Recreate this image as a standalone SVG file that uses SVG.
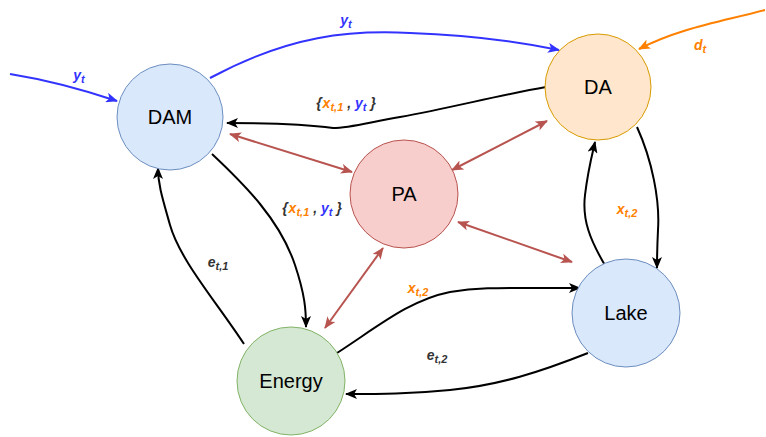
<svg xmlns="http://www.w3.org/2000/svg" width="766" height="437" viewBox="0 0 766 437">
<style>
.node text{font-family:"Liberation Sans",Arial,sans-serif;font-size:20px;fill:#000;text-anchor:middle;dominant-baseline:central}
.e{fill:none;stroke-width:2}
.k{stroke:#000}
.b{stroke:#3333ff}
.o{stroke:#ff8000}
.r{stroke:#b85450}
.lbl{font-family:"Liberation Sans",Arial,sans-serif;font-size:14px;font-weight:bold;font-style:italic;text-anchor:middle}
.sub{font-size:11px}
.cb{fill:#3333ff}
.co{fill:#ff8000}
.cd{fill:#333333}
</style>
<defs>
<marker id="ak" viewBox="0 0 12 10" refX="11" refY="5" markerWidth="12" markerHeight="10" markerUnits="userSpaceOnUse" orient="auto"><path d="M0,0 L12,5 L0,10 L3,5 Z" fill="#000"/></marker>
<marker id="ab" viewBox="0 0 12 10" refX="11" refY="5" markerWidth="12" markerHeight="10" markerUnits="userSpaceOnUse" orient="auto"><path d="M0,0 L12,5 L0,10 L3,5 Z" fill="#3333ff"/></marker>
<marker id="ao" viewBox="0 0 12 10" refX="11" refY="5" markerWidth="12" markerHeight="10" markerUnits="userSpaceOnUse" orient="auto"><path d="M0,0 L12,5 L0,10 L3,5 Z" fill="#ff8000"/></marker>
<marker id="ar" viewBox="0 0 12 10" refX="11" refY="5" markerWidth="12" markerHeight="10" markerUnits="userSpaceOnUse" orient="auto-start-reverse"><path d="M0,0 L12,5 L0,10 L3,5 Z" fill="#b85450"/></marker>
</defs>
<g id="connectors">
<path class="e b" d="M10,74 Q60,82 117,101" marker-end="url(#ab)"/>
<path class="e b" d="M210,78 C290,35 350,30 410,33 C470,35 520,42 559,50" marker-end="url(#ab)"/>
<path class="e o" d="M765,10 C720,22 680,28 639,49" marker-end="url(#ao)"/>
<path class="e k" d="M546,87 C500,95 450,108 400,117 C370,122 350,128 333,128 C310,125 280,123 227,123" marker-end="url(#ak)"/>
<path class="e k" d="M212,154 C245,185 280,220 295,265 C305,295 306,310 306,327" marker-end="url(#ak)"/>
<path class="e k" d="M244,344 C215,300 180,260 170,225 C163,200 158,185 158,168" marker-end="url(#ak)"/>
<path class="e k" d="M337,353 C380,325 410,300 450,292 C480,287 500,288 580,288" marker-end="url(#ak)"/>
<path class="e k" d="M588,353 C540,372 500,385 450,390 C410,394 380,394 346,394" marker-end="url(#ak)"/>
<path class="e k" d="M606,267 C590,240 582,220 585,195 C588,170 592,155 595,142" marker-end="url(#ak)"/>
<path class="e k" d="M637,127 C652,160 660,200 658,230 C657,250 657,260 657,268" marker-end="url(#ak)"/>
<path class="e r" d="M230,134 L352,172" marker-start="url(#ar)" marker-end="url(#ar)"/>
<path class="e r" d="M547,121 L452,170" marker-start="url(#ar)" marker-end="url(#ar)"/>
<path class="e r" d="M458,222 L572,262" marker-start="url(#ar)" marker-end="url(#ar)"/>
<path class="e r" d="M383,248 L325,328" marker-start="url(#ar)" marker-end="url(#ar)"/>
<text class="lbl" x="79" y="80"><tspan class="cb">y</tspan><tspan class="sub cb" dy="3">t</tspan></text>
<text class="lbl" x="346" y="25"><tspan class="cb">y</tspan><tspan class="sub cb" dy="3">t</tspan></text>
<text class="lbl" x="700" y="50"><tspan class="co">d</tspan><tspan class="sub co" dy="3">t</tspan></text>
<text class="lbl" x="346" y="108"><tspan class="cd">{</tspan><tspan class="co" dx="1">x</tspan><tspan class="sub co" dy="3">t,1</tspan><tspan class="cd" dy="-3"> , </tspan><tspan class="cb">y</tspan><tspan class="sub cb" dy="3">t</tspan><tspan class="cd" dy="-3" dx="4">}</tspan></text>
<text class="lbl" x="312" y="213"><tspan class="cd">{</tspan><tspan class="co" dx="1">x</tspan><tspan class="sub co" dy="3">t,1</tspan><tspan class="cd" dy="-3"> , </tspan><tspan class="cb">y</tspan><tspan class="sub cb" dy="3">t</tspan><tspan class="cd" dy="-3" dx="4">}</tspan></text>
<text class="lbl" x="218" y="267"><tspan class="cd">e</tspan><tspan class="sub cd" dy="3">t,1</tspan></text>
<text class="lbl" x="418" y="293"><tspan class="co">x</tspan><tspan class="sub co" dy="3">t,2</tspan></text>
<text class="lbl" x="437" y="360"><tspan class="cd">e</tspan><tspan class="sub cd" dy="3">t,2</tspan></text>
<text class="lbl" x="627" y="214"><tspan class="co">x</tspan><tspan class="sub co" dy="3">t,2</tspan></text>
</g>
<g id="DAM" class="node"><circle cx="170" cy="117" r="53" fill="#dae8fc" stroke="#6c8ebf"/><text x="170" y="117">DAM</text></g>
<g id="DA" class="node"><circle cx="598" cy="87" r="53" fill="#ffe6cc" stroke="#d79b00"/><text x="598" y="87">DA</text></g>
<g id="PA" class="node"><circle cx="404" cy="194" r="54" fill="#f8cecc" stroke="#b85450"/><text x="404" y="194">PA</text></g>
<g id="Lake" class="node"><circle cx="626" cy="313" r="54" fill="#dae8fc" stroke="#6c8ebf"/><text x="626" y="313">Lake</text></g>
<g id="Energy" class="node"><circle cx="291" cy="381" r="54" fill="#d5e8d4" stroke="#82b366"/><text x="291" y="381">Energy</text></g>
</svg>
